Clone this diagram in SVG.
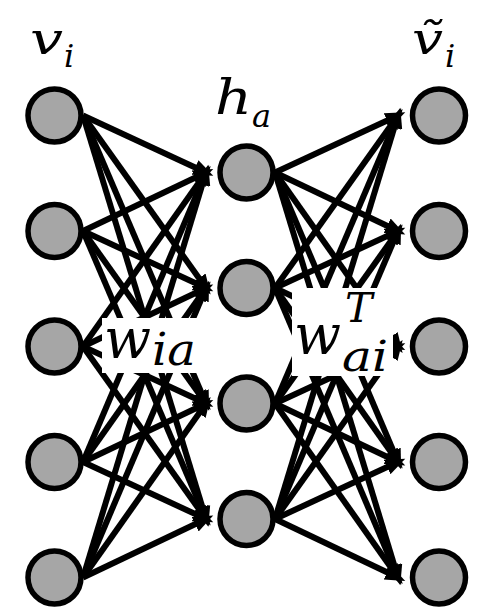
<svg xmlns="http://www.w3.org/2000/svg" width="477" height="609" viewBox="0 0 477 609">
<style>
.node circle{fill:#a6a6a6;stroke:#000;stroke-width:5.5}
.conn line{stroke:#000;stroke-width:6;marker-end:url(#ah)}
.lbl{font-family:"DejaVu Serif","Liberation Serif",serif;font-style:italic;fill:#000}
.box{fill:#fff}
</style>
<defs>
<marker id="ah" markerUnits="userSpaceOnUse" markerWidth="22" markerHeight="18" viewBox="0 -9 22 18" refX="12" refY="0" orient="auto"><path d="M0,-8 L20,0 L0,8 z" fill="#000"/></marker>
</defs>
<rect width="477" height="609" fill="#fff"/>
<g id="connectors" class="conn">
<line x1="83" y1="115.5" x2="206" y2="172.5"/>
<line x1="83" y1="115.5" x2="206" y2="288"/>
<line x1="83" y1="115.5" x2="206" y2="403.5"/>
<line x1="83" y1="115.5" x2="206" y2="519"/>
<line x1="83" y1="231" x2="206" y2="172.5"/>
<line x1="83" y1="231" x2="206" y2="288"/>
<line x1="83" y1="231" x2="206" y2="403.5"/>
<line x1="83" y1="231" x2="206" y2="519"/>
<line x1="83" y1="346.5" x2="206" y2="172.5"/>
<line x1="83" y1="346.5" x2="206" y2="288"/>
<line x1="83" y1="346.5" x2="206" y2="403.5"/>
<line x1="83" y1="346.5" x2="206" y2="519"/>
<line x1="83" y1="462" x2="206" y2="172.5"/>
<line x1="83" y1="462" x2="206" y2="288"/>
<line x1="83" y1="462" x2="206" y2="403.5"/>
<line x1="83" y1="462" x2="206" y2="519"/>
<line x1="83" y1="577.5" x2="206" y2="172.5"/>
<line x1="83" y1="577.5" x2="206" y2="288"/>
<line x1="83" y1="577.5" x2="206" y2="403.5"/>
<line x1="83" y1="577.5" x2="206" y2="519"/>
<line x1="275" y1="172.5" x2="398" y2="115.5"/>
<line x1="275" y1="172.5" x2="398" y2="231"/>
<line x1="275" y1="172.5" x2="398" y2="346.5"/>
<line x1="275" y1="172.5" x2="398" y2="462"/>
<line x1="275" y1="172.5" x2="398" y2="577.5"/>
<line x1="275" y1="288" x2="398" y2="115.5"/>
<line x1="275" y1="288" x2="398" y2="231"/>
<line x1="275" y1="288" x2="398" y2="346.5"/>
<line x1="275" y1="288" x2="398" y2="462"/>
<line x1="275" y1="288" x2="398" y2="577.5"/>
<line x1="275" y1="403.5" x2="398" y2="115.5"/>
<line x1="275" y1="403.5" x2="398" y2="231"/>
<line x1="275" y1="403.5" x2="398" y2="346.5"/>
<line x1="275" y1="403.5" x2="398" y2="462"/>
<line x1="275" y1="403.5" x2="398" y2="577.5"/>
<line x1="275" y1="519" x2="398" y2="115.5"/>
<line x1="275" y1="519" x2="398" y2="231"/>
<line x1="275" y1="519" x2="398" y2="346.5"/>
<line x1="275" y1="519" x2="398" y2="462"/>
<line x1="275" y1="519" x2="398" y2="577.5"/>
</g>
<g id="label-w-ia">
<rect class="box" x="102" y="318" width="97" height="55"/>
<text class="lbl" x="104" y="358" font-size="56" textLength="47" lengthAdjust="spacingAndGlyphs">w</text>
<text class="lbl" x="152" y="365" font-size="44" textLength="44" lengthAdjust="spacingAndGlyphs">ia</text>
</g>
<g id="label-w-ai-T">
<rect class="box" x="292" y="288" width="101" height="88"/>
<text class="lbl" x="294" y="354" font-size="56" textLength="47" lengthAdjust="spacingAndGlyphs">w</text>
<text class="lbl" x="345" y="322" font-size="41">T</text>
<text class="lbl" x="342" y="371" font-size="42" textLength="46" lengthAdjust="spacingAndGlyphs">ai</text>
</g>
<g id="visible" class="node">
<g id="v1"><circle cx="54.5" cy="115.5" r="26.5"/></g>
<g id="v2"><circle cx="54.5" cy="231" r="26.5"/></g>
<g id="v3"><circle cx="54.5" cy="346.5" r="26.5"/></g>
<g id="v4"><circle cx="54.5" cy="462" r="26.5"/></g>
<g id="v5"><circle cx="54.5" cy="577.5" r="26.5"/></g>
</g>
<g id="hidden" class="node">
<g id="h1"><circle cx="246.5" cy="172.5" r="26.5"/></g>
<g id="h2"><circle cx="246.5" cy="288" r="26.5"/></g>
<g id="h3"><circle cx="246.5" cy="403.5" r="26.5"/></g>
<g id="h4"><circle cx="246.5" cy="519" r="26.5"/></g>
</g>
<g id="reconstructed" class="node">
<g id="r1"><circle cx="439" cy="115.5" r="26.5"/></g>
<g id="r2"><circle cx="439" cy="231" r="26.5"/></g>
<g id="r3"><circle cx="439" cy="346.5" r="26.5"/></g>
<g id="r4"><circle cx="439" cy="462" r="26.5"/></g>
<g id="r5"><circle cx="439" cy="577.5" r="26.5"/></g>
</g>
<g id="titles">
<text class="lbl" x="30" y="54" font-size="44" textLength="33" lengthAdjust="spacingAndGlyphs">v</text>
<text class="lbl" x="64" y="67" font-size="32">i</text>
<text class="lbl" x="215" y="114" font-size="48" textLength="37" lengthAdjust="spacingAndGlyphs">h</text>
<text class="lbl" x="252" y="127" font-size="32">a</text>
<text class="lbl" x="412" y="54" font-size="44" textLength="31" lengthAdjust="spacingAndGlyphs">ṽ</text>
<text class="lbl" x="445" y="67" font-size="32">i</text>
</g>
</svg>
